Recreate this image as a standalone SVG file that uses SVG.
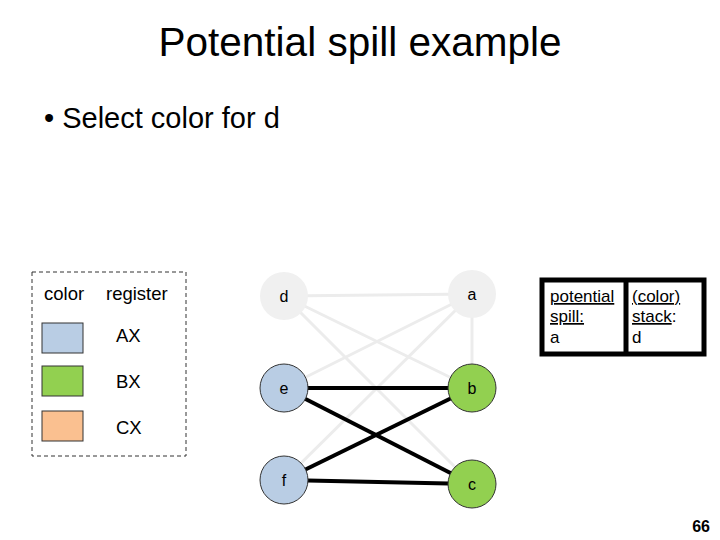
<svg xmlns="http://www.w3.org/2000/svg" width="720" height="540" viewBox="0 0 720 540">
<style>
text{font-family:"Liberation Sans",Arial,sans-serif;fill:#000}
.node circle{stroke:#333;stroke-width:1}
.node circle.gray{fill:#f0f0f0;stroke:none}
.lt{stroke:#ececec;stroke-width:3}
.dk{stroke:#000;stroke-width:4}
.sw{stroke:#333;stroke-width:1}
.lbl{font-size:16px;text-anchor:middle}
.leg{font-size:18.5px}
.box{font-size:17px}
</style>
<rect width="720" height="540" fill="#fff"/>
<text x="360" y="56" font-size="40.5" text-anchor="middle">Potential spill example</text>
<text x="44" y="128" font-size="29">• Select color for d</text>

<g id="legend">
<rect x="32" y="272" width="154" height="184" fill="none" stroke="#333" stroke-width="1" stroke-dasharray="4,3"/>
<text class="leg" x="44" y="300">color</text>
<text class="leg" x="106" y="300">register</text>
<rect class="sw" x="42" y="323" width="41" height="30" fill="#b9cde4"/>
<rect class="sw" x="42" y="366" width="41" height="30" fill="#92d050"/>
<rect class="sw" x="42" y="411" width="41" height="30" fill="#fac090"/>
<text class="leg" x="116" y="342">AX</text>
<text class="leg" x="116" y="388">BX</text>
<text class="leg" x="116" y="434">CX</text>
</g>

<g id="connectors">
<line class="lt" x1="284" y1="296" x2="472" y2="294"/>
<line class="lt" x1="284" y1="296" x2="472" y2="388"/>
<line class="lt" x1="284" y1="296" x2="472" y2="484"/>
<line class="lt" x1="472" y1="294" x2="284" y2="388"/>
<line class="lt" x1="472" y1="294" x2="284" y2="480"/>
<line class="lt" x1="472" y1="294" x2="472" y2="388"/>
<line class="dk" x1="284" y1="388" x2="472" y2="388"/>
<line class="dk" x1="284" y1="388" x2="472" y2="484"/>
<line class="dk" x1="284" y1="480" x2="472" y2="388"/>
<line class="dk" x1="284" y1="480" x2="472" y2="484"/>
</g>

<g id="node-d" class="node"><circle class="gray" cx="284" cy="296" r="24"/><text class="lbl" x="284" y="302">d</text></g>
<g id="node-a" class="node"><circle class="gray" cx="472" cy="294" r="24"/><text class="lbl" x="472" y="300">a</text></g>
<g id="node-e" class="node"><circle cx="284" cy="388" r="24" fill="#b9cde4"/><text class="lbl" x="284" y="394">e</text></g>
<g id="node-b" class="node"><circle cx="472" cy="388" r="24" fill="#92d050"/><text class="lbl" x="472" y="394">b</text></g>
<g id="node-f" class="node"><circle cx="284" cy="480" r="24" fill="#b9cde4"/><text class="lbl" x="284" y="486">f</text></g>
<g id="node-c" class="node"><circle cx="472" cy="484" r="24" fill="#92d050"/><text class="lbl" x="472" y="490">c</text></g>

<g id="spill-box">
<rect x="542" y="280" width="162" height="74" fill="#fff" stroke="#000" stroke-width="5"/>
<line x1="626" y1="280" x2="626" y2="354" stroke="#000" stroke-width="5"/>
<text class="box" x="550" y="302" text-decoration="underline">potential</text>
<text class="box" x="550" y="322" text-decoration="underline">spill:</text>
<text class="box" x="550" y="343">a</text>
<text class="box" x="632" y="302" text-decoration="underline">(color)</text>
<text class="box" x="632" y="322"><tspan text-decoration="underline">stack</tspan>:</text>
<text class="box" x="632" y="343">d</text>
</g>

<text x="710" y="532" font-size="16" font-weight="bold" text-anchor="end">66</text>
</svg>
